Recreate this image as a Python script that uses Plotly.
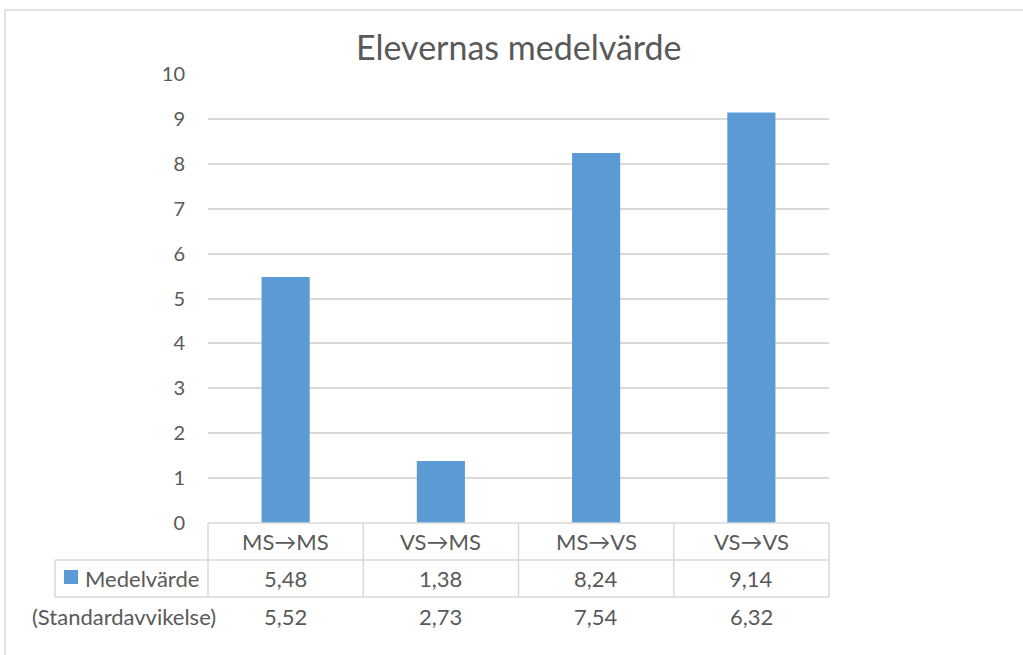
import plotly.graph_objects as go

categories = ["MS→MS", "VS→MS", "MS→VS", "VS→VS"]
medelvarde = [5.48, 1.38, 8.24, 9.14]
standardavvikelse = [5.52, 2.73, 7.54, 6.32]
series_name = "Medelvärde"
second_row_name = "(Standardavvikelse)"
title_text = "Elevernas medelvärde"
y_ticks = list(range(0, 11))

W, H = 1023, 655
L, R, T, B = 208, 829, 74, 523
PW, PH = R - L, B - T

def px(xp):
    return (xp - L) / PW

def py(yp):
    return (B - yp) / PH

BAR = "#5B9BD5"
GRID = "#D9D9D9"
TXT = "#595959"
FONT = "Lato"

def fmt(v):
    return f"{v:.2f}".replace(".", ",")

fig = go.Figure()
fig.add_trace(go.Bar(x=categories, y=medelvarde, marker_color=BAR,
                     marker_line_width=0, width=0.31, name=series_name,
                     showlegend=False))

shapes = []
line = dict(color=GRID, width=1.5)
# outer chart border
shapes.append(dict(type="rect", xref="paper", yref="paper",
                   x0=px(5), x1=px(1040), y0=py(10), y1=py(670),
                   line=dict(color=GRID, width=1.5), fillcolor="rgba(0,0,0,0)"))
n = len(categories)
row1, row2, row3 = B, 560, 597
# horizontal table lines
shapes.append(dict(type="line", xref="paper", yref="paper", x0=0, x1=1,
                   y0=py(row1), y1=py(row1), line=line))
for yy in (row2, row3):
    shapes.append(dict(type="line", xref="paper", yref="paper", x0=px(55), x1=1,
                       y0=py(yy), y1=py(yy), line=line))
# vertical table lines
for i in range(n + 1):
    shapes.append(dict(type="line", xref="paper", yref="paper", x0=i / n, x1=i / n,
                       y0=py(row1), y1=py(row3), line=line))
shapes.append(dict(type="line", xref="paper", yref="paper", x0=px(55), x1=px(55),
                   y0=py(row2), y1=py(row3), line=line))
# legend key square
shapes.append(dict(type="rect", xref="paper", yref="paper",
                   x0=px(64), x1=px(78), y0=py(570), y1=py(584),
                   line=dict(width=0), fillcolor=BAR))

ann = []
fs = 22
for i, c in enumerate(categories):
    ann.append(dict(x=c, xref="x", y=py(541), yref="paper", text=c, showarrow=False,
                    font=dict(size=fs, color=TXT, family=FONT), xanchor="center", yanchor="middle"))
    ann.append(dict(x=c, xref="x", y=py(578), yref="paper", text=fmt(medelvarde[i]), showarrow=False,
                    font=dict(size=fs, color=TXT, family=FONT), xanchor="center", yanchor="middle"))
    ann.append(dict(x=c, xref="x", y=py(616), yref="paper", text=fmt(standardavvikelse[i]), showarrow=False,
                    font=dict(size=fs, color=TXT, family=FONT), xanchor="center", yanchor="middle"))
ann.append(dict(x=px(83), xref="paper", y=py(578), yref="paper", text=series_name, showarrow=False,
                font=dict(size=fs, color=TXT, family=FONT), xanchor="left", yanchor="middle"))
ann.append(dict(x=px(124), xref="paper", y=py(616), yref="paper", text=second_row_name, showarrow=False,
                font=dict(size=fs, color=TXT, family=FONT), xanchor="center", yanchor="middle"))
ann.append(dict(x=0.5, xref="paper", y=py(47), yref="paper", text=title_text, showarrow=False,
                font=dict(size=34, color=TXT, family=FONT), xanchor="center", yanchor="middle"))

fig.update_layout(
    width=W, height=H,
    margin=dict(l=L, r=W - R, t=T, b=H - B, pad=0),
    paper_bgcolor="white", plot_bgcolor="white",
    shapes=shapes, annotations=ann,
    bargap=0.69,
    xaxis=dict(showticklabels=False, showgrid=False, zeroline=False, showline=False,
               ticks="", range=[-0.5, n - 0.5], fixedrange=True),
    yaxis=dict(range=[0, 10], tickvals=y_ticks, showgrid=True, gridcolor=GRID, gridwidth=1.5,
               zeroline=False, showline=False, ticks="",
               tickfont=dict(size=20, color=TXT, family=FONT), ticklabelstandoff=22),
    font=dict(family=FONT, color=TXT),
)

fig.write_html("out.html")
